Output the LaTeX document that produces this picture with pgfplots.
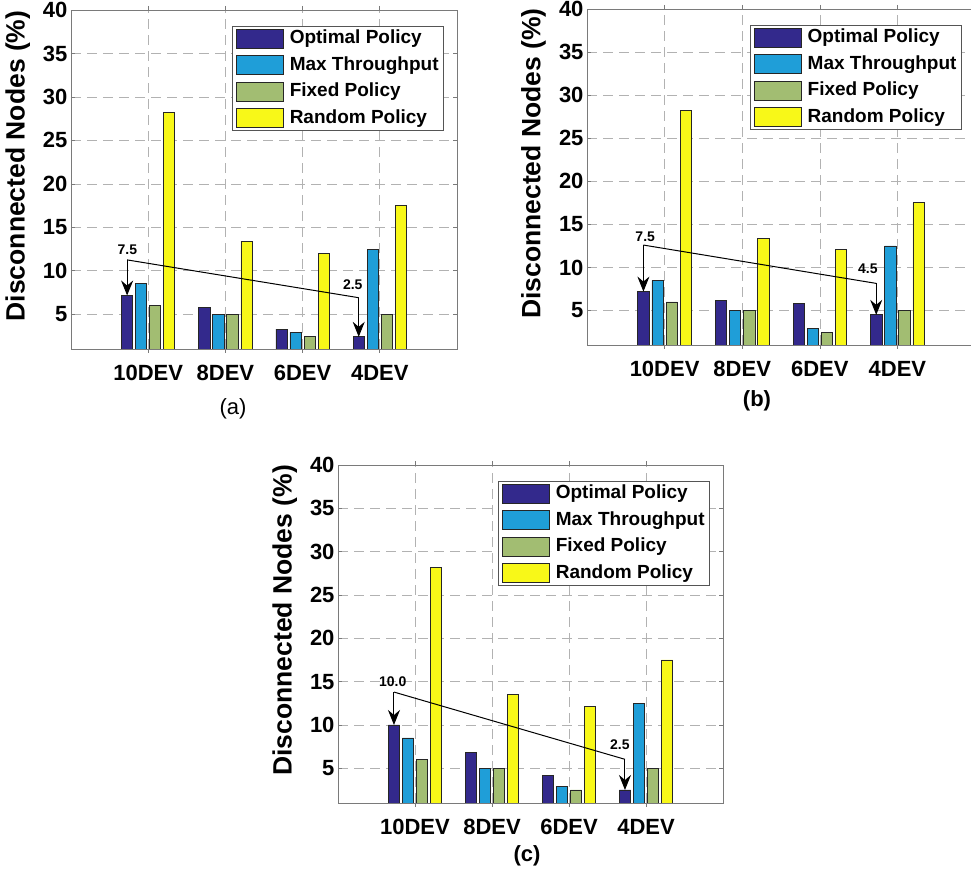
\documentclass[border=0pt]{standalone}
\usepackage{pgfplots}
\pgfplotsset{compat=1.18}
\usepackage{fontspec}
\setmainfont{Liberation Sans}
\usetikzlibrary{arrows.meta}
\definecolor{cOpt}{HTML}{33298C}
\definecolor{cMax}{HTML}{1F9ED8}
\definecolor{cFix}{HTML}{A2BD72}
\definecolor{cRand}{HTML}{F8F818}
\definecolor{cFrame}{HTML}{7A7A7A}
\tikzset{
  ann/.style={black, line width=1pt},
  annarrow/.style={black, line width=1pt, -{Stealth[length=15pt, width=12pt, inset=5pt]}},
  anntext/.style={font=\fontsize{14}{14}\selectfont\bfseries},
}
\pgfplotsset{
  panel/.style={
    scale only axis,
    xmin=0, xmax=5, ymin=1, ymax=40,
    xtick={1,2,3,4}, xticklabels={10DEV,8DEV,6DEV,4DEV},
    ytick={5,10,15,20,25,30,35,40},
    grid=major,
    major grid style={dash pattern=on 10pt off 6pt, gray!60, line width=0.6pt},
    axis line style={cFrame, line width=0.9pt},
    tick style={cFrame, line width=0.6pt},
    major tick length=4pt,
    ticklabel style={font=\fontsize{22}{22}\selectfont\bfseries},
    xticklabel style={yshift=-9pt},
    /pgf/number format/assume math mode=true,
    ylabel={Disconnected Nodes (\%)},
    ylabel style={font=\fontsize{26.5}{26.5}\selectfont\bfseries, at={(axis description cs:-0.138,0.54)}, anchor=center},
    ybar, bar width=0.145,
    legend image code/.code={\draw[##1, line width=0.7pt] (0pt,-9.5pt) rectangle (47pt,9.5pt);},
    legend style={at={(0.965,0.953)}, anchor=north east, draw=cFrame!70!black, line width=0.8pt, fill=white,
      font=\fontsize{19}{19}\selectfont\bfseries, inner xsep=3pt, inner ysep=2pt, row sep=5.5pt,
      nodes={inner sep=1.5pt, text height=14pt, text depth=4pt},
      /tikz/every odd column/.append style={column sep=5pt}},
    legend cell align=left,
  },
  bOpt/.style={fill=cOpt, draw=black!85, line width=0.7pt, bar shift=-0.2727},
  bMax/.style={fill=cMax, draw=black!85, line width=0.7pt, bar shift=-0.0909},
  bFix/.style={fill=cFix, draw=black!85, line width=0.7pt, bar shift=0.0909},
  bRand/.style={fill=cRand, draw=black!85, line width=0.7pt, bar shift=0.2727},
}
\begin{document}
\begin{tikzpicture}
\useasboundingbox (0,0) rectangle (971pt,880pt);
% ---------------- (a) ----------------
\begin{axis}[panel, at={(71pt,531pt)}, anchor=south west, width=386pt, height=339pt]
\addplot[bOpt] coordinates {(1,7.15) (2,5.8) (3,3.3) (4,2.4)};
\addplot[bMax] coordinates {(1,8.5) (2,5.0) (3,2.9) (4,12.5)};
\addplot[bFix] coordinates {(1,6.0) (2,5.0) (3,2.4) (4,5.0)};
\addplot[bRand] coordinates {(1,28.2) (2,13.4) (3,12.0) (4,17.5)};
\legend{Optimal Policy, Max Throughput, Fixed Policy, Random Policy}
\draw[annarrow] (axis cs:0.727,11.25) -- (axis cs:0.727,7.15);
\draw[ann] (axis cs:0.727,11.25) -- (axis cs:3.727,6.9);
\draw[annarrow] (axis cs:3.727,6.9) -- (axis cs:3.727,2.4);
\node[anntext] at (axis cs:0.73,12.4) {7.5};
\node[anntext] at (axis cs:3.65,8.4) {2.5};
\end{axis}
\node[font=\fontsize{22}{22}\selectfont] at (233pt,471pt) {(a)};
% ---------------- (b) ----------------
\begin{axis}[panel, at={(587pt,535pt)}, anchor=south west, width=388pt, height=336pt]
\addplot[bOpt] coordinates {(1,7.2) (2,6.2) (3,5.85) (4,4.5)};
\addplot[bMax] coordinates {(1,8.5) (2,5.0) (3,2.9) (4,12.5)};
\addplot[bFix] coordinates {(1,6.0) (2,5.0) (3,2.5) (4,5.0)};
\addplot[bRand] coordinates {(1,28.2) (2,13.4) (3,12.1) (4,17.5)};
\legend{Optimal Policy, Max Throughput, Fixed Policy, Random Policy}
\draw[annarrow] (axis cs:0.727,12.6) -- (axis cs:0.727,7.2);
\draw[ann] (axis cs:0.727,12.6) -- (axis cs:3.727,8.15);
\draw[annarrow] (axis cs:3.727,8.15) -- (axis cs:3.727,4.5);
\node[anntext] at (axis cs:0.75,13.6) {7.5};
\node[anntext] at (axis cs:3.62,9.8) {4.5};
\end{axis}
\node[font=\fontsize{22}{22}\selectfont\bfseries] at (757pt,479pt) {(b)};
% ---------------- (c) ----------------
\begin{axis}[panel, at={(338pt,77pt)}, anchor=south west, width=385pt, height=338pt]
\addplot[bOpt] coordinates {(1,10.0) (2,6.85) (3,4.15) (4,2.5)};
\addplot[bMax] coordinates {(1,8.5) (2,5.0) (3,2.9) (4,12.5)};
\addplot[bFix] coordinates {(1,6.0) (2,5.0) (3,2.5) (4,5.0)};
\addplot[bRand] coordinates {(1,28.2) (2,13.5) (3,12.1) (4,17.5)};
\legend{Optimal Policy, Max Throughput, Fixed Policy, Random Policy}
\draw[annarrow] (axis cs:0.727,13.8) -- (axis cs:0.727,10.0);
\draw[ann] (axis cs:0.727,13.8) -- (axis cs:3.727,6.04);
\draw[annarrow] (axis cs:3.727,6.04) -- (axis cs:3.727,2.5);
\node[anntext] at (axis cs:0.71,15.0) {10.0};
\node[anntext] at (axis cs:3.66,7.7) {2.5};
\end{axis}
\node[font=\fontsize{22}{22}\selectfont\bfseries] at (527pt,24pt) {(c)};
\end{tikzpicture}
\end{document}
